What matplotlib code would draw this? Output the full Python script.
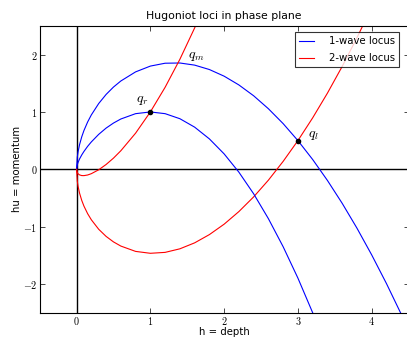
import matplotlib
matplotlib.use("Agg")
import matplotlib.pyplot as plt

# states
q_l = (3.0, 0.5)
q_r = (1.0, 1.0)

# loci through q_r (depth, momentum)
h_r = [0, 0.01, 0.02, 0.04, 0.07, 0.1, 0.15, 0.2, 0.3, 0.4, 0.5, 0.6, 0.8,
       1.0, 1.2, 1.4, 1.6, 1.8, 2.0, 2.2, 2.4, 2.6, 2.8, 3.0, 3.2]
hu_r1 = [0, 0.080, 0.119, 0.179, 0.250, 0.311, 0.400, 0.477, 0.609, 0.718, 0.806, 0.877, 0.970,
         1.000, 0.970, 0.882, 0.735, 0.530, 0.268, -0.051, -0.428, -0.862, -1.352, -1.899, -2.503]
hu_r2 = [0, -0.060, -0.079, -0.098, -0.110, -0.111, -0.100, -0.077, -0.009, 0.083, 0.194, 0.323, 0.630,
         1.000, 1.430, 1.918, 2.465, 3.070, 3.732, 4.452, 5.228, 6.062, 6.952, 7.899, 8.903]

# loci through q_l
h_l = [0, 0.01, 0.02, 0.04, 0.07, 0.1, 0.15, 0.2, 0.3, 0.4, 0.5, 0.6, 0.8,
       1.0, 1.2, 1.4, 1.6, 1.8, 2.0, 2.2, 2.4, 2.6, 2.8, 3.0,
       3.2, 3.4, 3.6, 3.8, 4.0, 4.2, 4.4]
hu_l1 = [0, 0.213, 0.302, 0.428, 0.566, 0.676, 0.825, 0.948, 1.147, 1.305, 1.434, 1.540, 1.699,
         1.800, 1.850, 1.854, 1.817, 1.740, 1.624, 1.471, 1.282, 1.056, 0.796, 0.500,
         0.170, -0.195, -0.594, -1.027, -1.494, -1.994, -2.528]
hu_l2 = [0, -0.210, -0.296, -0.415, -0.543, -0.643, -0.775, -0.881, -1.047, -1.171, -1.267, -1.340, -1.433,
         -1.466, -1.450, -1.388, -1.284, -1.140, -0.958, -0.738, -0.482, -0.190, 0.138, 0.500,
         0.897, 1.328, 1.794, 2.294, 2.827, 3.394, 3.995]

xticks = [0, 1, 2, 3, 4]
yticks = [-2, -1, 0, 1, 2]

plt.rcParams["mathtext.fontset"] = "cm"
plt.rcParams["font.family"] = "DejaVu Sans"
fs = 7.3

fig = plt.figure(figsize=(4.07, 3.39), dpi=100)
ax = fig.add_axes([0.0975, 0.078, 0.9064, 0.8454])

ax.axhline(0, color="k", lw=1.0, zorder=1)
ax.axvline(0, color="k", lw=1.0, zorder=1)

ax.plot(h_l, hu_l1, color="b", lw=0.8, label="1-wave locus")
ax.plot(h_l, hu_l2, color="r", lw=0.8, label="2-wave locus")
ax.plot(h_r, hu_r1, color="b", lw=0.8)
ax.plot(h_r, hu_r2, color="r", lw=0.8)

ax.plot([q_l[0], q_r[0]], [q_l[1], q_r[1]], "ko", ms=3)
ax.text(3.13, 0.56, "$q_l$", fontsize=10)
ax.text(0.80, 1.18, "$q_r$", fontsize=10)
ax.text(1.51, 1.94, "$q_m$", fontsize=10)

ax.set_xlim(-0.5, 4.5)
ax.set_ylim(-2.5, 2.5)
ax.set_xticks(xticks)
ax.set_xticklabels([f"${t}$" for t in xticks], fontsize=fs)
ax.set_yticks(yticks)
ax.set_yticklabels([f"${t}$" for t in yticks], fontsize=fs)
ax.tick_params(direction="in", top=True, right=True, length=3.5, width=0.5, pad=1.5)

ax.set_title("Hugoniot loci in phase plane", fontsize=7.8, pad=5)
ax.set_xlabel("h = depth", fontsize=fs, labelpad=0)
ax.set_ylabel("hu = momentum", fontsize=fs, labelpad=1)

leg = ax.legend(loc="upper right", bbox_to_anchor=(0.974, 0.978), borderaxespad=0,
                fontsize=fs, fancybox=False, handlelength=1.4, handletextpad=1.5,
                labelspacing=0.7, borderpad=0.4)
leg.get_frame().set_edgecolor("k")
leg.get_frame().set_linewidth(0.8)

fig.savefig("out.png", dpi=100)
